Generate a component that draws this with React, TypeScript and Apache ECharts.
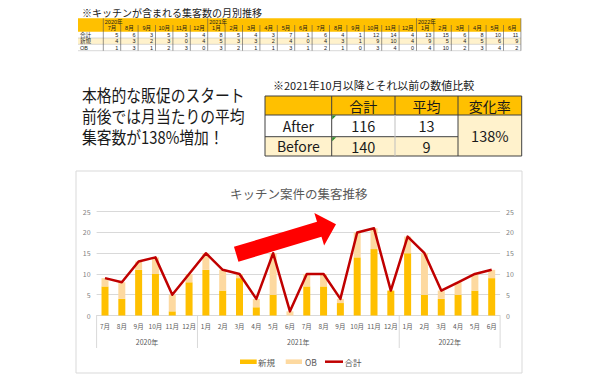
import React, { useEffect, useRef } from 'react';
import * as echarts from 'echarts';

// ---------- chart data ----------
const chartMonths = ['7月', '8月', '9月', '10月', '11月', '12月', '1月', '2月', '3月', '4月', '5月', '6月', '7月', '8月', '9月', '10月', '11月', '12月', '1月', '2月', '3月', '4月', '5月', '6月'];
const chartYears = ['2020年', '2021年', '2022年'];
const yearSpans = [6, 12, 6];
const newValues = [7, 4, 11, 10, 1, 8, 11, 6, 9, 2, 5, 0, 7, 7, 3, 14, 16, 6, 15, 5, 4, 5, 6, 9];
const obValues = [2, 4, 2, 4, 4, 2, 4, 5, 1, 2, 10, 1, 3, 3, 1, 6, 5, 0, 4, 10, 2, 3, 4, 2];
const totalValues = [9, 8, 13, 14, 5, 10, 15, 11, 10, 4, 15, 1, 10, 10, 4, 20, 21, 6, 19, 15, 6, 8, 10, 11];
const seriesNames = ['新規', 'OB', '合計'];

// ---------- top table data ----------
const tableYears = ['2020年', '2021年', '2022年'];
const tableYearStart = [0, 6, 18];
const tableMonths = chartMonths;
const tableRowLabels = ['合計', '新規', 'OB'];
const tableTotal = [5, 6, 3, 5, 3, 4, 8, 5, 4, 3, 7, 1, 6, 4, 1, 12, 14, 4, 13, 15, 6, 8, 10, 11];
const tableNew = [4, 3, 2, 3, 0, 4, 5, 3, 3, 2, 4, 0, 4, 3, 1, 9, 10, 4, 9, 5, 4, 5, 6, 9];
const tableOB = [1, 3, 1, 2, 3, 0, 3, 2, 1, 1, 3, 1, 2, 1, 0, 3, 4, 0, 4, 10, 2, 3, 4, 2];

// ---------- comparison table data ----------
const compareCaption = '※2021年10月以降とそれ以前の数値比較';
const compareHeaders = ['合計', '平均', '変化率'];
const compareRows = ['After', 'Before'];
const compareTotals = ['116', '140'];
const compareAverages = ['13', '9'];
const changeRate = '138%';

const topTitle = '※キッチンが含まれる集客数の月別推移';
const headlineLines = ['本格的な販促のスタート', '前後では月当たりの平均', '集客数が138%増加！'];
const chartTitle = 'キッチン案件の集客推移';

const FONT = "'Noto Sans CJK JP', 'Noto Sans', sans-serif";
const SMALL_FONT = "'Liberation Sans', 'Noto Sans CJK JP', sans-serif";
const GOLD = '#FFC000';
const CREAM = '#FFF2CC';
const PEACH = '#FDD9A0';
const LINE_RED = '#C00000';

function txt(x: number, y: number, text: string, size: number, opts: any = {}) {
  return {
    type: 'text',
    x,
    y,
    z: 50,
    scaleX: opts.scaleX ?? 1,
    style: {
      text,
      fontSize: size,
      lineHeight: opts.lineHeight ?? Math.round(size * 1.15),
      fontFamily: opts.font ?? FONT,
      fill: opts.fill ?? '#1a1a1a',
      align: opts.align ?? 'left',
      verticalAlign: 'middle',
      fontWeight: opts.weight ?? 'normal',
    },
  };
}

function ln(x1: number, y1: number, x2: number, y2: number, stroke: string, w = 1, z = 40) {
  return { type: 'line', z, shape: { x1, y1, x2, y2 }, style: { stroke, lineWidth: w } };
}

function rc(x: number, y: number, w: number, h: number, fill: string, z = 10) {
  return { type: 'rect', z, shape: { x, y, width: w, height: h }, style: { fill } };
}

function arrowPoints(tx: number, ty: number, hx: number, hy: number, sh: number, hh: number, hl: number) {
  const dx = hx - tx, dy = hy - ty;
  const len = Math.hypot(dx, dy);
  const ux = dx / len, uy = dy / len;
  const px = -uy, py = ux;
  const bx = hx - ux * hl, by = hy - uy * hl;
  return [
    [tx + px * sh, ty + py * sh],
    [bx + px * sh, by + py * sh],
    [bx + px * hh, by + py * hh],
    [hx, hy],
    [bx - px * hh, by - py * hh],
    [bx - px * sh, by - py * sh],
    [tx - px * sh, ty - py * sh],
  ];
}

function buildStaticGraphics() {
  const g: any[] = [];
  // top title
  g.push(txt(82, 12, topTitle, 10));

  // top table
  const L = 78, LW = 25.3, CW = 17.4;
  const R = [18.3, 25, 31.7, 38, 44.3, 50.7];
  const colX = (j: number) => L + LW + j * CW;
  const right = colX(24);
  const ts = 5.5;
  const small = { lineHeight: 6, font: SMALL_FONT };
  g.push(rc(L, R[0], right - L, R[2] - R[0], GOLD));
  g.push(rc(L, R[3], right - L, R[4] - R[3], CREAM));
  [R[3], R[4], R[5]].forEach((y) => g.push(ln(L, y, right, y, '#BFBFBF', 0.6)));
  for (let j = 0; j <= 24; j++) {
    const isYear = j === 24 || tableYearStart.indexOf(j) >= 0;
    g.push(ln(colX(j), isYear ? R[0] : R[1], colX(j), R[5], '#505050', 0.6));
  }
  tableYears.forEach((y, i) => g.push(txt(colX(tableYearStart[i]) + 1.5, (R[0] + R[1]) / 2, y, ts, small)));
  tableMonths.forEach((m, j) => g.push(txt(colX(j) + CW / 2, (R[1] + R[2]) / 2, m, ts, { ...small, align: 'center' })));
  const rows = [tableTotal, tableNew, tableOB];
  rows.forEach((row, r) => {
    const cy = (R[2 + r] + R[3 + r]) / 2;
    g.push(txt(L + 2, cy, tableRowLabels[r], ts, small));
    row.forEach((v, j) => g.push(txt(colX(j + 1) - 2.5, cy, String(v), ts, { ...small, align: 'right' })));
  });

  // headline
  const hy = [95, 116.5, 137];
  headlineLines.forEach((t, i) => g.push(txt(82, hy[i], t, 17, { scaleX: 0.87, lineHeight: 19 })));

  // comparison table
  g.push(txt(273, 85, compareCaption, 11));
  const CX = [265, 331.7, 395, 458, 521.7];
  const CY = [96, 115, 136.7, 156];
  g.push(rc(CX[0], CY[0], CX[4] - CX[0], CY[1] - CY[0], GOLD));
  g.push(rc(CX[0], CY[2], CX[3] - CX[0], CY[3] - CY[2], CREAM));
  g.push(rc(CX[3], CY[1], CX[4] - CX[3], CY[3] - CY[1], CREAM));
  g.push(ln(CX[0], CY[0], CX[4], CY[0], '#404040', 1));
  g.push(ln(CX[0], CY[1], CX[4], CY[1], '#404040', 1));
  g.push(ln(CX[0], CY[2], CX[3], CY[2], '#404040', 1));
  g.push(ln(CX[0], CY[3], CX[4], CY[3], '#404040', 1));
  g.push(ln(CX[0], CY[0], CX[0], CY[3], '#404040', 1));
  g.push(ln(CX[1], CY[0], CX[1], CY[3], '#404040', 1));
  g.push(ln(CX[2], CY[0], CX[2], CY[1], '#404040', 1));
  g.push(ln(CX[2], CY[1], CX[2], CY[3], '#BFBFBF', 1));
  g.push(ln(CX[3], CY[0], CX[3], CY[3], '#404040', 1));
  g.push(ln(CX[4], CY[0], CX[4], CY[3], '#404040', 1));
  compareHeaders.forEach((h, i) => g.push(txt((CX[i + 1] + CX[i + 2]) / 2, (CY[0] + CY[1]) / 2, h, 14, { align: 'center' })));
  compareRows.forEach((r, i) => {
    const cy = (CY[1 + i] + CY[2 + i]) / 2;
    g.push(txt((CX[0] + CX[1]) / 2, cy, r, 14, { align: 'center' }));
    g.push(txt((CX[1] + CX[2]) / 2, cy, compareTotals[i], 14.5, { align: 'center' }));
    g.push(txt((CX[2] + CX[3]) / 2, cy, compareAverages[i], 14.5, { align: 'center' }));
    g.push({
      type: 'polygon', z: 45,
      shape: { points: [[CX[1] + 0.5, CY[1 + i] + 0.5], [CX[1] + 4.5, CY[1 + i] + 0.5], [CX[1] + 0.5, CY[1 + i] + 4.5]] },
      style: { fill: '#2E8B2E' },
    });
  });
  g.push(txt((CX[3] + CX[4]) / 2, (CY[1] + CY[3]) / 2, changeRate, 14.5, { align: 'center' }));

  // chart frame
  g.push({ type: 'rect', z: 1, shape: { x: 76, y: 171, width: 446, height: 202 }, style: { fill: 'rgba(0,0,0,0)', stroke: '#D9D9D9', lineWidth: 1 } });

  // legend (manual)
  const ly = 361.7;
  g.push(rc(240, ly - 2.3, 16.7, 4.6, GOLD, 30));
  g.push(txt(258, ly, seriesNames[0], 8.5, { fill: '#595959' }));
  g.push(rc(285.7, ly - 2.3, 16.3, 4.6, PEACH, 30));
  g.push(txt(305, ly, seriesNames[1], 8.5, { fill: '#595959' }));
  g.push(ln(325, ly, 343, ly, LINE_RED, 2.5, 30));
  g.push(txt(344.5, ly, seriesNames[2], 8.5, { fill: '#595959' }));

  // red arrow
  g.push({
    type: 'polygon', z: 100,
    shape: { points: arrowPoints(236.2, 254.2, 336, 224.3, 7.8, 17, 17.5) },
    style: { fill: '#FF0000' },
  });
  return g;
}

export default function App() {
  const ref = useRef<HTMLDivElement>(null);
  useEffect(() => {
    const el = ref.current!;
    const chart = echarts.init(el, null, { renderer: 'svg' });
    const yAxisBase = {
      type: 'value',
      min: 0,
      max: 25,
      interval: 5,
      axisLine: { show: false },
      axisTick: { show: false },
      axisLabel: { fontSize: 7, color: '#7F7F7F', fontFamily: FONT, margin: 6 },
    };
    chart.setOption({
      animation: false,
      backgroundColor: '#ffffff',
      textStyle: { fontFamily: FONT },
      title: {
        text: chartTitle,
        left: 225,
        top: 182,
        textStyle: { fontSize: 12.5, color: '#595959', fontWeight: 'normal', fontFamily: FONT },
      },
      grid: { left: 96.6, right: 99.9, top: 211.7, bottom: 64.5 },
      xAxis: {
        type: 'category',
        data: chartMonths,
        axisLine: { lineStyle: { color: '#D9D9D9' } },
        axisTick: { show: false },
        axisLabel: { interval: 0, fontSize: 6.5, color: '#595959', margin: 7, fontFamily: FONT },
      },
      yAxis: [
        { ...yAxisBase, position: 'left', splitLine: { lineStyle: { color: '#D9D9D9' } } },
        { ...yAxisBase, position: 'right', splitLine: { show: false } },
      ],
      series: [
        { name: seriesNames[0], type: 'bar', stack: 'total', data: newValues, barWidth: 7, itemStyle: { color: GOLD }, z: 2 },
        { name: seriesNames[1], type: 'bar', stack: 'total', data: obValues, barWidth: 7, itemStyle: { color: PEACH }, z: 2 },
        {
          name: seriesNames[2], type: 'line', data: totalValues, symbol: 'none', z: 5,
          lineStyle: { color: LINE_RED, width: 2.5, join: 'round' }, itemStyle: { color: LINE_RED },
        },
      ],
    });

    const p0 = chart.convertToPixel({ xAxisIndex: 0 }, 0) as number;
    const p1 = chart.convertToPixel({ xAxisIndex: 0 }, 1) as number;
    const band = p1 - p0;
    const yearG: any[] = [];
    let start = 0;
    const bounds: number[] = [p0 - band / 2];
    chartYears.forEach((y, i) => {
      const end = start + yearSpans[i];
      const xs = (chart.convertToPixel({ xAxisIndex: 0 }, start) as number) - band / 2;
      const xe = (chart.convertToPixel({ xAxisIndex: 0 }, end - 1) as number) + band / 2;
      bounds.push(xe);
      yearG.push(txt((xs + xe) / 2, 342, y, 7, { align: 'center', fill: '#595959' }));
      start = end;
    });
    bounds.forEach((x) => yearG.push(ln(x, 316, x, 348, '#D9D9D9', 1, 20)));

    chart.setOption({ graphic: [...buildStaticGraphics(), ...yearG] });
    return () => chart.dispose();
  }, []);
  return (
    <div
      ref={ref}
      style={{ position: 'fixed', left: 0, top: 0, width: 600, height: 380, background: '#fff' }}
    />
  );
}
